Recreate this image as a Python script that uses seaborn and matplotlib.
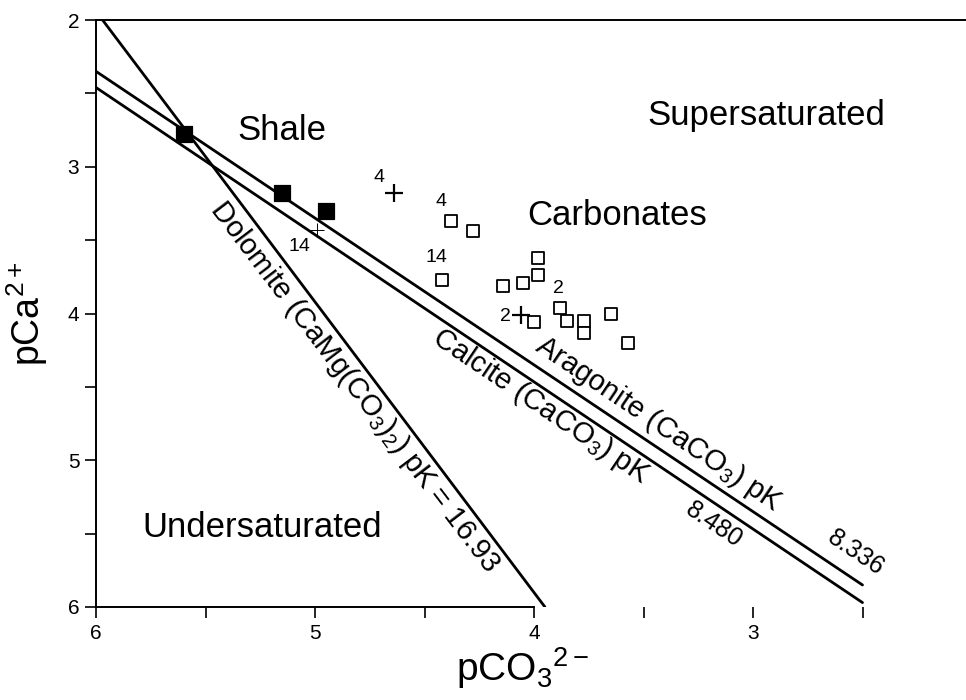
import matplotlib
matplotlib.use('Agg')
import matplotlib.pyplot as plt
import seaborn as sns

# saturation lines (pCO3 endpoints, pCa endpoints)
dolomite_x = [5.97, 3.95]
dolomite_y = [2.0, 6.0]
aragonite_x = [6.0, 2.5]
aragonite_y = [2.35, 5.85]
calcite_x = [6.0, 2.5]
calcite_y = [2.46, 5.97]

# shale samples (filled squares)
shale_x = [5.60, 5.15, 4.95]
shale_y = [2.78, 3.18, 3.30]

# carbonate samples (open squares)
carb_x = [4.38, 4.28, 4.42, 4.14, 4.05, 3.98, 3.98, 3.88, 4.00, 3.85, 3.77, 3.77, 3.65, 3.57]
carb_y = [3.37, 3.44, 3.77, 3.81, 3.79, 3.62, 3.74, 3.96, 4.06, 4.05, 4.05, 4.13, 4.00, 4.20]

# crosses
cross_x = [4.64, 4.06]
cross_y = [3.18, 4.01]
thin_cross_x = [4.99]
thin_cross_y = [3.43]

x_ticks = [6, 5.5, 5, 4.5, 4, 3.5, 3, 2.5]
x_ticklabels = ['6', '', '5', '', '4', '', '3', '']
y_ticks = [2, 2.5, 3, 3.5, 4, 4.5, 5, 5.5, 6]
y_ticklabels = ['2', '', '3', '', '4', '', '5', '', '6']

sns.set_theme(style='white')
plt.rcParams['font.family'] = ['Liberation Sans', 'DejaVu Sans']
plt.rcParams['mathtext.fontset'] = 'custom'
plt.rcParams['mathtext.rm'] = 'Liberation Sans'
plt.rcParams['mathtext.it'] = 'Liberation Sans:italic'
plt.rcParams['text.color'] = 'black'
plt.rcParams['axes.labelcolor'] = 'black'
plt.rcParams['xtick.color'] = 'black'
plt.rcParams['ytick.color'] = 'black'

fig = plt.figure(figsize=(9.66, 7.0), dpi=100)
ax = fig.add_axes([96 / 966, 1 - 607 / 700, 1 - 96 / 966, (607 - 20) / 700])

for lx, ly in [(dolomite_x, dolomite_y), (aragonite_x, aragonite_y), (calcite_x, calcite_y)]:
    sns.lineplot(x=lx, y=ly, color='black', linewidth=2.0, ax=ax, sort=False)

sns.scatterplot(x=shale_x, y=shale_y, marker='s', s=120, color='black',
                edgecolor='black', ax=ax, zorder=5)
sns.scatterplot(x=carb_x, y=carb_y, marker='s', s=85, facecolor='white',
                edgecolor='black', linewidth=1.3, ax=ax, zorder=5)
sns.scatterplot(x=cross_x, y=cross_y, marker='+', s=170, color='black',
                linewidth=1.6, ax=ax, zorder=5)
sns.scatterplot(x=thin_cross_x, y=thin_cross_y, marker='+', s=110, color='black',
                linewidth=0.7, ax=ax, zorder=5)

# sample numbers next to points
num_fs = 14
ax.annotate('4', (cross_x[0], cross_y[0]), xytext=(-11, 11), textcoords='offset points',
            ha='center', va='center', fontsize=num_fs)
ax.annotate('2', (cross_x[1], cross_y[1]), xytext=(-11, -1), textcoords='offset points',
            ha='center', va='center', fontsize=num_fs)
ax.annotate('14', (thin_cross_x[0], thin_cross_y[0]), xytext=(-13, -12), textcoords='offset points',
            ha='center', va='center', fontsize=num_fs)
ax.annotate('4', (carb_x[0], carb_y[0]), xytext=(-7, 14), textcoords='offset points',
            ha='center', va='center', fontsize=num_fs)
ax.annotate('14', (carb_x[2], carb_y[2]), xytext=(-4, 16), textcoords='offset points',
            ha='center', va='center', fontsize=num_fs)
ax.annotate('2', (carb_x[7], carb_y[7]), xytext=(-1, 14), textcoords='offset points',
            ha='center', va='center', fontsize=num_fs)

# region labels
big = 25
ax.text(5.15, 2.75, 'Shale', fontsize=big, ha='center', va='center')
ax.text(2.94, 2.65, 'Supersaturated', fontsize=big, ha='center', va='center')
ax.text(3.62, 3.33, 'Carbonates', fontsize=big, ha='center', va='center')
ax.text(5.24, 5.46, 'Undersaturated', fontsize=big, ha='center', va='center')

# line labels
lab = 21
ax.text(4.82, 4.50, 'Dolomite (CaMg(CO$_3$)$_2$) pK = 16.93', fontsize=lab,
        rotation=-52.7, rotation_mode='anchor', ha='center', va='center')
ax.text(3.97, 4.63, 'Calcite (CaCO$_3$) pK', fontsize=lab,
        rotation=-34, rotation_mode='anchor', ha='center', va='center')
ax.text(3.18, 5.44, '8.480', fontsize=lab - 3,
        rotation=-34, rotation_mode='anchor', ha='center', va='center')
ax.text(3.43, 4.75, 'Aragonite (CaCO$_3$) pK', fontsize=lab,
        rotation=-34, rotation_mode='anchor', ha='center', va='center')
ax.text(2.53, 5.63, '8.336', fontsize=lab - 3,
        rotation=-34, rotation_mode='anchor', ha='center', va='center')

ax.set_xlim(6, 6 - 870 / 219)
ax.set_ylim(6, 2)
ax.set_xticks(x_ticks)
ax.set_xticklabels(x_ticklabels)
ax.set_yticks(y_ticks)
ax.set_yticklabels(y_ticklabels)
ax.tick_params(direction='out', length=8, width=1.2, labelsize=15,
               bottom=True, left=True, pad=4)

for side in ['left', 'bottom', 'top']:
    ax.spines[side].set_color('black')
    ax.spines[side].set_linewidth(1.4)
ax.spines['right'].set_visible(False)
ax.spines['bottom'].set_bounds(6, 4)

ax.set_xlabel(r'$\mathregular{pCO_3{}^{2-}}$', fontsize=28)
ax.set_ylabel(r'$\mathregular{pCa^{2+}}$', fontsize=27)
ax.xaxis.set_label_coords(0.49, -0.065)
ax.yaxis.set_label_coords(-0.053, 0.5)
ax.grid(False)

fig.savefig('out.png', dpi=100)
